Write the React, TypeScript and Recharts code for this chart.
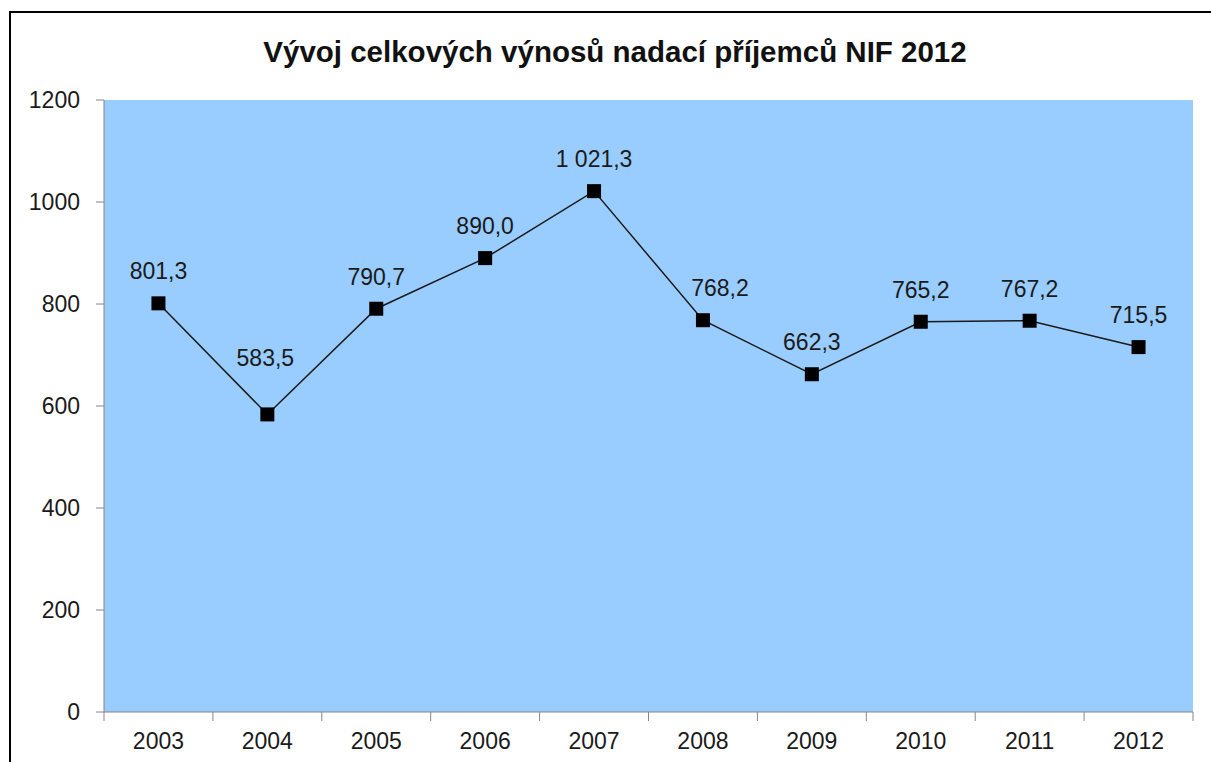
import { LineChart, Line, XAxis, YAxis, CartesianGrid, LabelList } from 'recharts';

const years = ['2003', '2004', '2005', '2006', '2007', '2008', '2009', '2010', '2011', '2012'];
const revenues = [801.3, 583.5, 790.7, 890.0, 1021.3, 768.2, 662.3, 765.2, 767.2, 715.5];
const yTicks = [0, 200, 400, 600, 800, 1000, 1200];

const chartTitle = 'Vývoj celkových výnosů nadací příjemců NIF 2012';

const W = 1211;
const H = 762;
const margin = { top: 100, right: 18, left: 0, bottom: 0 };
const yAxisWidth = 104;
const xAxisHeight = 50;
const font = '"Liberation Sans", Arial, sans-serif';
const axisColor = '#868686';

// a couple of labels were hand-moved in the original (by year)
const labelNudge: Record<string, { dx: number; dy: number }> = {
  '2004': { dx: -2, dy: -24 },
  '2008': { dx: 17, dy: 0 },
};

const data = years.map((year, i) => ({ year, value: revenues[i] }));

// Czech style: space thousands separator, decimal comma
function formatValue(v: number) {
  const [int, dec] = v.toFixed(1).split('.');
  const grouped = int.replace(/\B(?=(\d{3})+(?!\d))/g, ' ');
  return `${grouped},${dec}`;
}

const plotWidth = W - margin.left - margin.right - yAxisWidth;
const band = plotWidth / years.length;

function YearTick(props: any) {
  const { x, y, payload, index } = props;
  const left = x - band / 2;
  const right = x + band / 2;
  return (
    <g>
      <line x1={left} y1={y} x2={left} y2={y + 9} stroke={axisColor} strokeWidth={1} />
      {index === years.length - 1 && (
        <line x1={right} y1={y} x2={right} y2={y + 9} stroke={axisColor} strokeWidth={1} />
      )}
      <text
        x={x}
        y={y + 21}
        dy="0.71em"
        textAnchor="middle"
        fill="#1a1a1a"
        fontSize={23}
        fontFamily={font}
      >
        {payload.value}
      </text>
    </g>
  );
}

function SquareDot(props: any) {
  const { cx, cy } = props;
  if (cx == null || cy == null) return null;
  const s = 14;
  return <rect x={cx - s / 2} y={cy - s / 2} width={s} height={s} fill="#000" />;
}

function ValueLabel(props: any) {
  const { x, y, value, index } = props;
  if (x == null || y == null) return null;
  const nudge = labelNudge[years[index]] || { dx: 0, dy: 0 };
  return (
    <text
      x={x + nudge.dx}
      y={y - 24 + nudge.dy}
      textAnchor="middle"
      fill="#1a1a1a"
      fontSize={23}
      fontFamily={font}
    >
      {formatValue(Number(value))}
    </text>
  );
}

export default function App() {
  return (
    <div
      style={{
        position: 'absolute',
        left: 0,
        top: 0,
        width: W,
        height: H,
        overflow: 'hidden',
        background: '#fff',
        fontFamily: font,
      }}
    >
      <div
        style={{
          position: 'absolute',
          left: 9,
          top: 11,
          width: 1400,
          height: 1000,
          border: '2px solid #000',
        }}
      />
      <div
        style={{
          position: 'absolute',
          left: 0,
          top: 37,
          width: 1230,
          textAlign: 'center',
          fontSize: 29.5,
          lineHeight: '29px',
          fontWeight: 'bold',
          color: '#111',
          whiteSpace: 'nowrap',
        }}
      >
        {chartTitle}
      </div>
      <div style={{ position: 'absolute', left: 0, top: 0 }}>
        <LineChart width={W} height={H} data={data} margin={margin}>
          <CartesianGrid fill="#99CCFF" stroke="none" horizontal={false} vertical={false} />
          <XAxis
            dataKey="year"
            height={xAxisHeight}
            stroke={axisColor}
            tickLine={false}
            tickSize={0}
            tickMargin={0}
            tick={<YearTick />}
            interval={0}
            padding={{ left: band / 2, right: band / 2 }}
          />
          <YAxis
            width={yAxisWidth}
            domain={[0, 1200]}
            ticks={yTicks}
            stroke={axisColor}
            tickSize={8}
            tickMargin={16}
            tick={{ fontSize: 23, fill: '#1a1a1a', fontFamily: font }}
          />
          <Line
            type="linear"
            dataKey="value"
            stroke="#1a1a1a"
            strokeWidth={1.5}
            dot={<SquareDot />}
            activeDot={false}
            isAnimationActive={false}
          >
            <LabelList dataKey="value" content={<ValueLabel />} />
          </Line>
        </LineChart>
      </div>
    </div>
  );
}
